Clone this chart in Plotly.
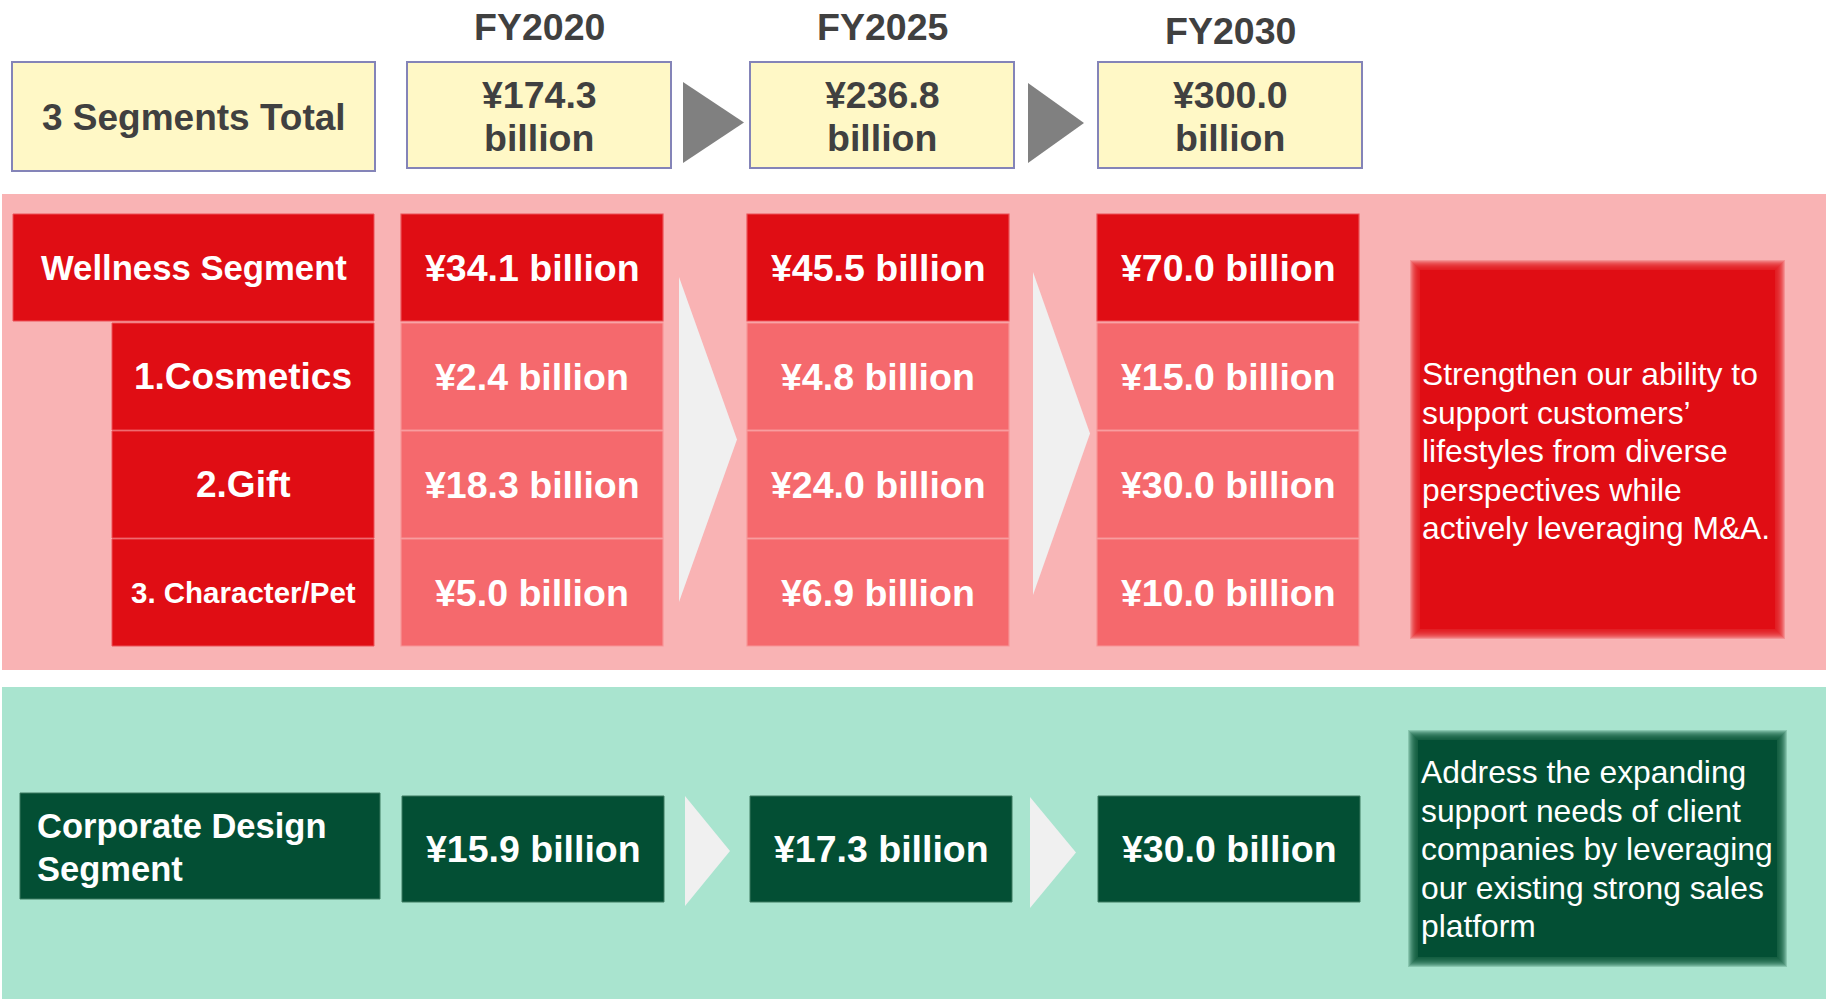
import plotly.graph_objects as go

# ---------------- data ----------------
YEARS = ["FY2020", "FY2025", "FY2030"]
TOTAL_LABEL = "3 Segments Total"
TOTAL = [174.3, 236.8, 300.0]                 # ¥ billion
WELLNESS_LABELS = ["Wellness Segment", "1.Cosmetics", "2.Gift", "3. Character/Pet"]
WELLNESS = [34.1, 45.5, 70.0]
COSMETICS = [2.4, 4.8, 15.0]
GIFT = [18.3, 24.0, 30.0]
CHARACTER = [5.0, 6.9, 10.0]
CORPORATE_LABEL = ["Corporate Design", "Segment"]
CORPORATE = [15.9, 17.3, 30.0]
WELLNESS_NOTE = ["Strengthen our ability to", "support customers\u2019",
                 "lifestyles from diverse", "perspectives while",
                 "actively leveraging M&A."]
CORPORATE_NOTE = ["Address the expanding", "support needs of client",
                  "companies by leveraging", "our existing strong sales",
                  "platform"]

# ---------------- styles / layout constants ----------------
W, H = 1829, 999
FONT = "Liberation Sans, Arial, sans-serif"
DARK_TXT = "#404040"
YELLOW, YELLOW_LINE = "#FFF8C6", "#8484B8"
GRAY_ARROW = "#808080"
PINK_BG, RED, LIGHT_RED = "#F9B3B4", "#E00D14", "#F5696D"
LIGHT_ARROW = "#F0F0F0"
GREEN_BG, DARK_GREEN = "#A9E4CF", "#034F34"

HDR_X0 = [407, 750, 1098]
HDR_W = 264
HDR_Y = (62, 168)
FY_Y = [27, 27, 30.5]
COL_X0 = [401, 747, 1097]
COL_W = 262
ROW_Y0 = [214, 323, 431, 539]
ROW_H = 107
LABEL_X0 = [13, 112, 112, 112]
LABEL_X1 = 374
C_LABEL_BOX = (20, 793, 380, 899)
C_COL_X0 = [402, 750, 1098]
C_ROW_Y = (796, 902)
GRAY_ARROWS = [(683, 744, 82, 163), (1028, 1084, 83, 163)]
LIGHT_ARROWS = [(679, 737, 277, 602), (1033, 1090, 272, 595)]
GREEN_ARROWS = [(685, 730, 796, 906), (1030, 1076, 797, 908)]
RED_NOTE_BOX = (1415, 265, 1780, 634)
GREEN_NOTE_BOX = (1413, 735, 1782, 962)
NOTE_X = 1420
RED_NOTE_Y0, GREEN_NOTE_Y0, NOTE_DY = 374, 772, 38.6

BIG = 37.5      # bold value / header text
LABEL_SIZES = [34.7, 37, 37, 29.5]
TOTAL_SIZE = 37
CORP_LABEL = 34.5
NOTE = 31.8

shapes, annots = [], []


def rect(x0, y0, x1, y1, fill, line=None, lw=0, opacity=1):
    shapes.append(dict(type="rect", xref="x", yref="y", x0=x0, y0=y0, x1=x1, y1=y1,
                       fillcolor=fill, opacity=opacity, layer="below",
                       line=dict(color=line or fill, width=lw)))


def arrow(x0, x1, y0, y1, fill):
    ym = (y0 + y1) / 2
    shapes.append(dict(type="path", xref="x", yref="y", layer="below",
                       path=f"M {x0},{y0} L {x1},{ym} L {x0},{y1} Z",
                       fillcolor=fill, line=dict(width=0)))


def soft_rect(box, fill, half=5, layers=10):
    """Rectangle with a blurred (soft) edge."""
    x0, y0, x1, y1 = box
    for i in range(layers, 0, -1):
        d = -half + i * (2 * half / layers)
        rect(x0 - d, y0 - d, x1 + d, y1 + d, fill, opacity=0.2)
    rect(x0 + half, y0 + half, x1 - half, y1 - half, fill)


def text(x, y, s, size, color, bold=True, xanchor="center"):
    annots.append(dict(x=x, y=y, xref="x", yref="y", text=s, showarrow=False,
                       xanchor=xanchor, yanchor="middle", align="left",
                       font=dict(family=FONT, size=size, color=color,
                                 weight="bold" if bold else "normal")))


def money(v):
    return f"\u00a5{v:.1f} billion"


# ---------------- background panels ----------------
rect(2, 194, 1826, 670, PINK_BG)
rect(2, 687, 1826, 1001, GREEN_BG)

# ---------------- header row ----------------
rect(12, 62, 375, 171, YELLOW, YELLOW_LINE, 2)
text((12 + 375) / 2, 117, TOTAL_LABEL, TOTAL_SIZE, DARK_TXT)
for i, yr in enumerate(YEARS):
    x0 = HDR_X0[i]
    rect(x0, HDR_Y[0], x0 + HDR_W, HDR_Y[1], YELLOW, YELLOW_LINE, 2)
    cx = x0 + HDR_W / 2
    text(cx, FY_Y[i], yr, BIG, DARK_TXT)
    text(cx, 95, f"\u00a5{TOTAL[i]:.1f}", BIG, DARK_TXT)
    text(cx, 138, "billion", BIG, DARK_TXT)
for a in GRAY_ARROWS:
    arrow(*a, GRAY_ARROW)

# ---------------- wellness block ----------------
for r, lab in enumerate(WELLNESS_LABELS):
    y0 = ROW_Y0[r]
    rect(LABEL_X0[r], y0, LABEL_X1, y0 + ROW_H, RED, "#EC5358", 1)
    text((LABEL_X0[r] + LABEL_X1) / 2, y0 + ROW_H / 2, lab, LABEL_SIZES[r], "white")

series = [WELLNESS, COSMETICS, GIFT, CHARACTER]
for c in range(len(YEARS)):
    x0 = COL_X0[c]
    for r, vals in enumerate(series):
        y0 = ROW_Y0[r]
        fill = RED if r == 0 else LIGHT_RED
        rect(x0, y0, x0 + COL_W, y0 + ROW_H, fill, "#F79597" if r else "#EC5358", 1.2)
        text(x0 + COL_W / 2, y0 + ROW_H / 2, money(vals[c]), BIG, "white")
for a in LIGHT_ARROWS:
    arrow(*a, LIGHT_ARROW)

soft_rect(RED_NOTE_BOX, RED)
for i, line in enumerate(WELLNESS_NOTE):
    text(NOTE_X, RED_NOTE_Y0 + i * NOTE_DY, line, NOTE, "white", bold=False, xanchor="left")

# ---------------- corporate design block ----------------
rect(*C_LABEL_BOX, DARK_GREEN, "#3C7A60", 1)
for i, line in enumerate(CORPORATE_LABEL):
    text(35, 826 + i * 42.5, line, CORP_LABEL, "white", xanchor="left")
for c in range(len(YEARS)):
    x0 = C_COL_X0[c]
    rect(x0, C_ROW_Y[0], x0 + COL_W, C_ROW_Y[1], DARK_GREEN, "#3C7A60", 1)
    text(x0 + COL_W / 2, (C_ROW_Y[0] + C_ROW_Y[1]) / 2, money(CORPORATE[c]), BIG, "white")
for a in GREEN_ARROWS:
    arrow(*a, LIGHT_ARROW)

soft_rect(GREEN_NOTE_BOX, DARK_GREEN)
for i, line in enumerate(CORPORATE_NOTE):
    text(NOTE_X - 1, GREEN_NOTE_Y0 + i * NOTE_DY, line, NOTE, "white", bold=False, xanchor="left")

# ---------------- figure ----------------
fig = go.Figure()
fig.update_layout(
    width=W, height=H, margin=dict(l=0, r=0, t=0, b=0),
    paper_bgcolor="white", plot_bgcolor="white",
    xaxis=dict(range=[0, W], visible=False, fixedrange=True),
    yaxis=dict(range=[H, 0], visible=False, fixedrange=True),
    shapes=shapes, annotations=annots, showlegend=False,
)
fig.write_html("out.html", config={"displayModeBar": False},
               post_script="document.body.style.margin='0';document.body.style.overflow='hidden';")
